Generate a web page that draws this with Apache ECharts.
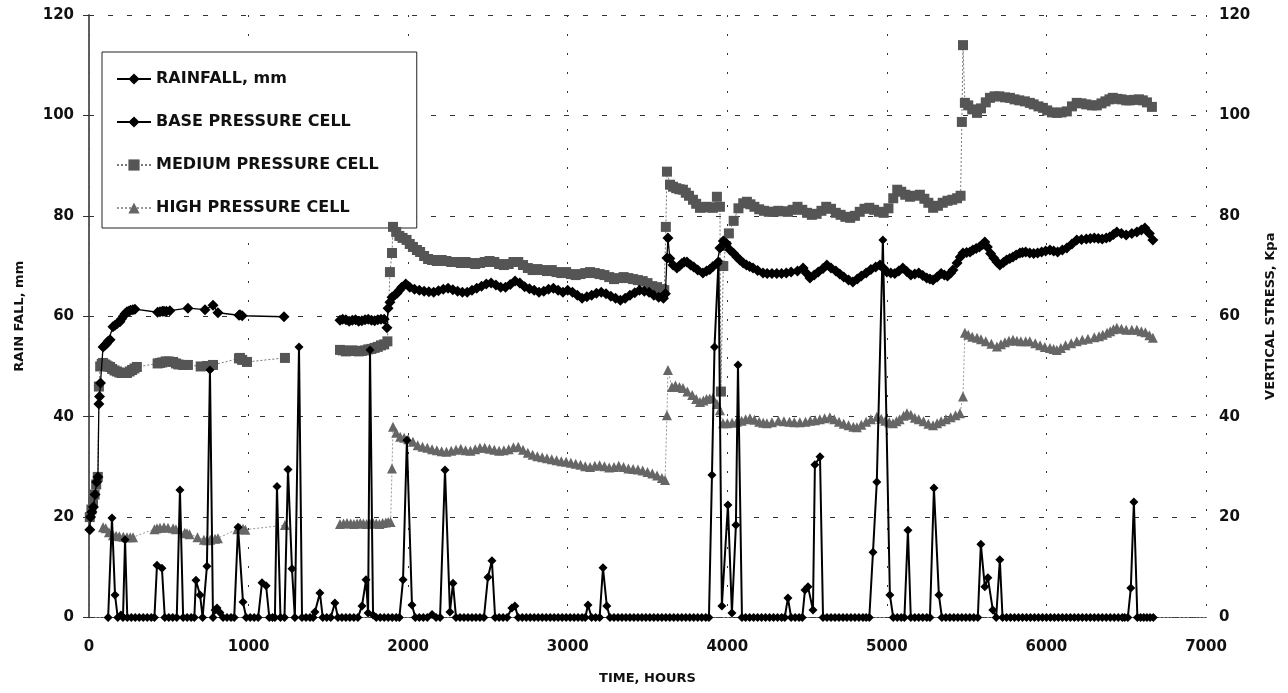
<!DOCTYPE html>
<html>
<head>
<meta charset="utf-8">
<script src="https://cdn.jsdelivr.net/npm/echarts@6/dist/echarts.min.js"></script>
<style>html,body{margin:0;padding:0;background:#fff}#c{width:1288px;height:693px}</style>
</head>
<body>
<div id="c"></div>
<script>
// ---------- DATA : [hours, value] ----------
const xTicks = [0, 1000, 2000, 3000, 4000, 5000, 6000, 7000];
const yTicks = [0, 20, 40, 60, 80, 100, 120];

// Rainfall, mm (left axis)
const rainfall = [[120,0],[144,19.8],[163,4.5],[180,0],[200,0.5],[213,0],[226,15.5],[240,0],[265,0],[290,0],[315,0],[340,0],[365,0],[390,0],[410,0],[426,10.4],[457,9.8],[475,0],[500,0],[525,0],[550,0],[570,25.4],[590,0],[615,0],[640,0],[660,0],[670,7.4],[696,4.5],[712,0],[739,10.2],[758,49.3],[777,0],[790,1.5],[802,1.9],[820,1],[840,0],[865,0],[890,0],[910,0],[934,18],[965,3.1],[985,0],[1010,0],[1035,0],[1060,0],[1084,6.9],[1110,6.3],[1130,0],[1150,0],[1165,0],[1178,26.1],[1200,0],[1225,0],[1247,29.5],[1272,9.7],[1290,0],[1316,53.9],[1335,0],[1360,0],[1385,0],[1405,0],[1416,1.1],[1447,4.9],[1465,0],[1490,0],[1515,0],[1541,2.9],[1560,0],[1585,0],[1610,0],[1635,0],[1660,0],[1685,0],[1711,2.3],[1736,7.5],[1749,0.9],[1761,53.3],[1780,0.5],[1800,0],[1825,0],[1850,0],[1875,0],[1900,0],[1925,0],[1945,0],[1968,7.5],[1992,35.3],[2024,2.5],[2045,0],[2070,0],[2095,0],[2120,0],[2150,0.6],[2175,0],[2200,0],[2231,29.4],[2262,1.1],[2281,6.8],[2300,0],[2325,0],[2350,0],[2375,0],[2400,0],[2425,0],[2450,0],[2475,0],[2500,8],[2525,11.3],[2545,0],[2570,0],[2595,0],[2620,0],[2650,1.9],[2669,2.3],[2690,0],[2715,0],[2740,0],[2765,0],[2790,0],[2815,0],[2840,0],[2865,0],[2890,0],[2915,0],[2940,0],[2965,0],[2990,0],[3015,0],[3040,0],[3065,0],[3090,0],[3110,0],[3127,2.5],[3150,0],[3175,0],[3200,0],[3221,9.9],[3245,2.3],[3265,0],[3290,0],[3315,0],[3340,0],[3365,0],[3390,0],[3415,0],[3440,0],[3465,0],[3490,0],[3515,0],[3540,0],[3565,0],[3590,0],[3615,0],[3640,0],[3665,0],[3690,0],[3715,0],[3740,0],[3765,0],[3790,0],[3815,0],[3840,0],[3865,0],[3885,0],[3904,28.4],[3920,53.9],[3945,71],[3966,2.3],[4004,22.4],[4029,0.9],[4054,18.4],[4067,50.3],[4092,0],[4115,0],[4140,0],[4165,0],[4190,0],[4215,0],[4240,0],[4265,0],[4290,0],[4315,0],[4340,0],[4360,0],[4380,3.9],[4400,0],[4425,0],[4450,0],[4470,0],[4487,5.5],[4506,6.1],[4537,1.5],[4549,30.4],[4581,32],[4600,0],[4625,0],[4650,0],[4675,0],[4700,0],[4725,0],[4750,0],[4775,0],[4800,0],[4825,0],[4850,0],[4870,0],[4890,0],[4913,13],[4937,27],[4975,75.2],[5019,4.5],[5040,0],[5065,0],[5090,0],[5110,0],[5132,17.4],[5150,0],[5175,0],[5200,0],[5225,0],[5250,0],[5270,0],[5295,25.8],[5326,4.5],[5345,0],[5370,0],[5395,0],[5420,0],[5445,0],[5470,0],[5495,0],[5520,0],[5545,0],[5570,0],[5589,14.6],[5614,6.1],[5633,7.9],[5664,1.5],[5685,0],[5708,11.5],[5725,0],[5750,0],[5775,0],[5800,0],[5825,0],[5850,0],[5875,0],[5900,0],[5925,0],[5950,0],[5975,0],[6000,0],[6025,0],[6050,0],[6075,0],[6100,0],[6125,0],[6150,0],[6175,0],[6200,0],[6225,0],[6250,0],[6275,0],[6300,0],[6325,0],[6350,0],[6375,0],[6400,0],[6425,0],[6450,0],[6475,0],[6490,0],[6510,0],[6529,5.9],[6548,23],[6570,0],[6590,0],[6610,0],[6630,0],[6650,0],[6670,0]];

// Base pressure cell, kPa (right axis); null = gap in record
const basePressure = [[5,17.5],[10,20],[18,21],[28,22],[38,24.5],[48,27],[56,28],[62,42.5],[66,44],[72,46.7],[88,53.9],[100,54.2],[110,54.5],[120,55],[132,55.3],[150,57.9],[163,58.2],[175,58.5],[194,58.9],[205,59.5],[215,60],[226,60.5],[238,60.9],[250,61],[260,61.2],[275,61.3],[288,61.4],[430,60.8],[445,60.9],[460,61],[470,61],[485,61],[507,61.1],[620,61.6],[727,61.3],[777,62.2],[808,60.7],[940,60.2],[946,60.3],[960,60.1],[1222,59.9],[1400,null],[1573,59.2],[1590,59.4],[1610,59.3],[1630,59],[1650,59.2],[1670,59.3],[1690,59],[1710,59.1],[1730,59.3],[1750,59.4],[1770,59.2],[1790,59.1],[1810,59.3],[1830,59.4],[1850,59.4],[1867,57.7],[1874,61.6],[1886,62.8],[1899,63.8],[1915,64.2],[1930,64.6],[1945,65.2],[1960,65.8],[1985,66.4],[2010,65.8],[2040,65.4],[2070,65.2],[2100,65],[2130,64.9],[2160,64.8],[2190,65.1],[2220,65.4],[2250,65.6],[2280,65.3],[2310,65],[2340,64.8],[2370,64.8],[2400,65.2],[2430,65.6],[2460,66],[2490,66.4],[2520,66.6],[2550,66.2],[2580,65.8],[2610,65.8],[2640,66.3],[2670,67],[2700,66.6],[2730,65.9],[2760,65.5],[2790,65.2],[2820,64.8],[2850,65],[2880,65.4],[2910,65.6],[2940,65.2],[2970,64.8],[3000,65.2],[3030,64.8],[3060,64.2],[3090,63.6],[3120,63.9],[3150,64.2],[3180,64.6],[3210,64.8],[3240,64.5],[3270,64],[3300,63.6],[3330,63.2],[3360,63.6],[3390,64.2],[3420,64.7],[3450,65.2],[3480,65],[3510,64.8],[3540,64.2],[3570,63.8],[3600,63.6],[3612,64.5],[3622,71.6],[3628,75.6],[3640,71.5],[3660,70.2],[3684,69.6],[3700,70],[3715,70.5],[3730,70.8],[3747,70.8],[3770,70.2],[3790,69.8],[3815,69.2],[3847,68.6],[3870,69],[3890,69.3],[3910,69.9],[3935,70.5],[3954,73.6],[3975,75],[3995,74.5],[4017,73.2],[4040,72.5],[4060,71.8],[4079,71.2],[4100,70.6],[4120,70.2],[4140,69.9],[4161,69.6],[4190,69.1],[4224,68.6],[4250,68.5],[4280,68.5],[4310,68.5],[4340,68.5],[4370,68.6],[4400,68.8],[4440,69],[4475,69.6],[4495,68.6],[4518,67.6],[4545,68.2],[4570,68.8],[4600,69.5],[4624,70.2],[4650,69.6],[4680,69],[4705,68.4],[4730,67.8],[4760,67.2],[4787,66.8],[4815,67.4],[4840,68],[4870,68.6],[4900,69.3],[4930,69.8],[4957,70.2],[4980,69.5],[5000,68.8],[5025,68.6],[5050,68.5],[5075,69],[5100,69.6],[5125,68.9],[5150,68.2],[5175,68.4],[5200,68.6],[5225,68.1],[5250,67.6],[5270,67.4],[5289,67.2],[5315,67.8],[5340,68.5],[5360,68.2],[5380,68],[5400,68.6],[5414,69.2],[5440,70.6],[5460,71.8],[5477,72.6],[5500,72.7],[5521,72.8],[5539,73.2],[5560,73.5],[5580,73.8],[5600,74.3],[5614,74.8],[5630,73.8],[5650,72.5],[5670,71.6],[5690,70.8],[5708,70.2],[5730,70.7],[5750,71.2],[5770,71.5],[5790,71.8],[5810,72.2],[5834,72.6],[5850,72.7],[5870,72.8],[5895,72.6],[5920,72.5],[5945,72.6],[5970,72.8],[5995,73],[6022,73.2],[6045,73],[6070,72.8],[6100,73.2],[6128,73.6],[6160,74.4],[6190,75.2],[6220,75.3],[6250,75.4],[6275,75.5],[6300,75.6],[6325,75.5],[6350,75.4],[6375,75.6],[6397,75.8],[6420,76.3],[6441,76.8],[6470,76.5],[6500,76.2],[6535,76.5],[6567,76.8],[6595,77.2],[6617,77.6],[6645,76.5],[6667,75.2]];

// Medium pressure cell, kPa (right axis)
const mediumPressure = [[5,20],[15,21.5],[25,23],[35,24.5],[45,26.5],[55,28],[62,46],[70,50],[80,50.5],[88,50.7],[100,50.4],[110,50.2],[120,50],[132,49.9],[145,49.5],[160,49.2],[175,49],[190,48.8],[205,48.7],[220,48.7],[238,48.7],[255,49],[270,49.3],[285,49.6],[300,49.9],[430,50.6],[445,50.7],[460,50.8],[480,51],[500,51],[527,50.9],[545,50.6],[560,50.4],[590,50.3],[620,50.3],[700,50],[740,50.1],[777,50.3],[940,51.6],[946,51.7],[960,51.3],[990,50.9],[1228,51.7],[1400,null],[1573,53.3],[1590,53.2],[1610,53],[1630,53.1],[1650,53.2],[1670,53.1],[1690,53],[1710,53.1],[1730,53.2],[1750,53.4],[1770,53.5],[1790,53.7],[1810,53.9],[1830,54.2],[1850,54.4],[1870,55],[1886,68.8],[1899,72.6],[1905,77.8],[1925,76.8],[1945,76],[1965,75.6],[1990,75.2],[2010,74.4],[2030,73.8],[2055,73.2],[2075,72.8],[2100,72],[2125,71.4],[2150,71.2],[2180,71],[2210,71.2],[2240,71],[2270,70.8],[2300,70.8],[2330,70.6],[2360,70.8],[2390,70.6],[2420,70.4],[2450,70.6],[2480,70.8],[2510,71],[2540,70.8],[2570,70.4],[2600,70.2],[2630,70.4],[2660,70.8],[2690,70.8],[2720,70.2],[2750,69.6],[2780,69.2],[2810,69.4],[2840,69.2],[2870,69],[2900,69.2],[2930,68.8],[2960,68.6],[2990,68.8],[3020,68.4],[3050,68.2],[3080,68.4],[3110,68.6],[3140,68.8],[3170,68.6],[3200,68.4],[3230,68.2],[3260,67.8],[3290,67.4],[3320,67.6],[3350,67.8],[3380,67.6],[3410,67.4],[3440,67.2],[3470,67],[3500,66.6],[3530,66],[3560,65.8],[3590,65.4],[3605,65.2],[3615,77.8],[3622,88.8],[3641,86.2],[3660,85.8],[3680,85.5],[3700,85.3],[3722,85.2],[3740,84.6],[3760,84],[3785,83.2],[3805,82.4],[3829,81.6],[3850,81.7],[3870,81.8],[3890,81.7],[3910,81.6],[3935,83.8],[3954,81.8],[3960,45],[3975,70],[3990,74],[4010,76.5],[4040,79],[4070,81.5],[4100,82.5],[4123,82.8],[4145,82.3],[4170,81.8],[4200,81.3],[4230,81],[4260,80.8],[4290,80.8],[4320,81],[4350,80.9],[4380,80.8],[4410,81.2],[4440,81.8],[4470,81.2],[4500,80.6],[4530,80.2],[4560,80.4],[4590,81],[4620,81.8],[4650,81.4],[4680,80.6],[4710,80.2],[4740,79.8],[4770,79.6],[4800,80],[4830,80.8],[4860,81.4],[4890,81.6],[4920,81.2],[4950,80.8],[4980,80.6],[5010,81.5],[5040,83.5],[5065,85.2],[5090,84.8],[5115,84.2],[5145,83.8],[5175,84],[5207,84.2],[5235,83.4],[5260,82.6],[5290,81.6],[5320,82],[5350,82.6],[5380,83],[5410,83.2],[5440,83.5],[5462,84],[5470,98.7],[5477,114],[5489,102.5],[5510,102],[5535,101.2],[5565,100.5],[5590,101.4],[5620,102.6],[5646,103.5],[5675,103.8],[5705,103.8],[5740,103.6],[5771,103.5],[5800,103.2],[5830,103],[5865,102.8],[5896,102.5],[5920,102.2],[5950,101.8],[5978,101.5],[6005,101],[6035,100.6],[6065,100.5],[6095,100.6],[6128,100.8],[6160,101.8],[6190,102.5],[6220,102.4],[6250,102.2],[6285,102],[6316,102],[6345,102.4],[6370,102.8],[6395,103.2],[6416,103.5],[6445,103.3],[6470,103.2],[6500,103],[6522,103],[6550,103.1],[6580,103.2],[6604,103],[6630,102.6],[6661,101.7]];

// High pressure cell, kPa (right axis)
const highPressure = [[88,18],[105,17.8],[125,17],[150,16.4],[170,16.3],[190,16.2],[215,16.1],[238,16],[258,16],[276,16],[410,17.6],[426,17.8],[445,17.9],[470,18],[495,17.9],[527,17.8],[545,17.6],[600,16.9],[614,16.8],[630,16.6],[680,16],[720,15.5],[739,15.4],[760,15.5],[790,15.7],[808,15.8],[930,17.6],[946,17.8],[965,17.7],[980,17.5],[1228,18.4],[1400,null],[1573,18.6],[1595,18.7],[1617,18.8],[1640,18.7],[1660,18.6],[1680,18.7],[1700,18.8],[1720,18.7],[1740,18.6],[1760,18.7],[1780,18.8],[1800,18.7],[1820,18.6],[1840,18.8],[1860,18.9],[1875,19],[1890,19],[1899,29.7],[1905,38],[1925,36.8],[1950,36],[1975,35.8],[2000,35.5],[2030,35],[2060,34.3],[2090,34],[2120,33.8],[2150,33.5],[2180,33.3],[2210,33.1],[2240,33],[2270,33.2],[2300,33.4],[2330,33.6],[2360,33.3],[2390,33.2],[2420,33.5],[2450,33.8],[2480,33.8],[2510,33.6],[2540,33.4],[2570,33.2],[2600,33.3],[2630,33.5],[2660,33.9],[2690,34],[2720,33.4],[2750,32.8],[2780,32.4],[2810,32.1],[2840,31.9],[2870,31.7],[2900,31.5],[2930,31.3],[2960,31.1],[2990,31],[3020,30.8],[3050,30.6],[3080,30.4],[3110,30.1],[3140,30],[3170,30.2],[3200,30.3],[3230,30.1],[3260,29.9],[3290,30],[3320,30.2],[3350,30],[3380,29.7],[3410,29.6],[3440,29.5],[3470,29.3],[3500,29],[3530,28.7],[3560,28.3],[3590,27.8],[3610,27.4],[3622,40.3],[3628,49.3],[3653,45.9],[3675,46.2],[3700,45.9],[3722,45.7],[3750,45],[3780,44.3],[3805,43.5],[3829,42.9],[3850,43.2],[3870,43.5],[3890,43.6],[3910,43.7],[3935,42.5],[3954,41.3],[3973,38.7],[4000,38.7],[4030,38.8],[4060,39],[4090,39.2],[4115,39.5],[4142,39.7],[4170,39.4],[4200,39],[4225,38.8],[4248,38.7],[4280,38.9],[4320,39.2],[4355,39.1],[4390,39],[4420,38.9],[4455,38.9],[4490,39],[4520,39.2],[4550,39.3],[4580,39.5],[4610,39.7],[4643,39.9],[4670,39.5],[4700,39],[4730,38.6],[4760,38.3],[4790,38],[4812,37.9],[4840,38.4],[4870,39],[4900,39.5],[4937,40],[4965,39.6],[4990,39.2],[5015,38.9],[5038,38.7],[5060,39.1],[5080,39.5],[5105,40.2],[5126,40.7],[5150,40.4],[5175,39.8],[5200,39.5],[5230,39.1],[5260,38.6],[5289,38.3],[5315,38.7],[5340,39.1],[5370,39.5],[5400,39.9],[5430,40.3],[5458,40.7],[5477,44],[5489,56.7],[5510,56.3],[5535,55.9],[5565,55.7],[5590,55.4],[5620,55],[5655,54.5],[5690,54],[5715,54.4],[5740,54.8],[5765,55.1],[5790,55.3],[5815,55.1],[5840,55],[5870,55],[5896,55],[5930,54.6],[5960,54.2],[5990,53.9],[6022,53.7],[6045,53.5],[6065,53.3],[6090,53.7],[6120,54.2],[6155,54.6],[6190,55],[6225,55.3],[6260,55.5],[6300,55.8],[6330,56],[6353,56.3],[6380,56.7],[6400,57],[6420,57.4],[6441,57.7],[6470,57.5],[6500,57.3],[6535,57.3],[6567,57.3],[6595,57],[6620,56.8],[6645,56.2],[6667,55.7]];

// ---------- CHART ----------
function clean(points) { return points.map(p => [p[0], p[1] === null ? '-' : p[1]]); }
const FONT = 'DejaVu Sans';
const chart = echarts.init(document.getElementById('c'), null, { renderer: 'canvas' });
const tickLabel = { fontFamily: FONT, fontWeight: 'bold', fontSize: 15, color: '#111', formatter: v => String(v) };

chart.setOption({
  animation: false,
  backgroundColor: '#fff',
  grid: { left: 89, right: 82, top: 15, bottom: 75.5, containLabel: false },
  legend: {
    orient: 'vertical', left: 102, top: 52,
    padding: [19, 38, 12, 14],
    itemGap: 27, itemWidth: 34, itemHeight: 14,
    backgroundColor: '#fff', borderColor: '#222', borderWidth: 1, borderRadius: 0,
    textStyle: { fontFamily: FONT, fontWeight: 'bold', fontSize: 16, color: '#111' },
    data: ['RAINFALL, mm', 'BASE PRESSURE CELL', 'MEDIUM PRESSURE CELL', 'HIGH PRESSURE CELL']
  },
  xAxis: [{
    type: 'value', min: 0, max: 7000, interval: 1000, position: 'bottom',
    name: 'TIME, HOURS', nameLocation: 'middle', nameGap: 55,
    nameTextStyle: { fontFamily: FONT, fontWeight: 'bold', fontSize: 13, color: '#111' },
    axisLine: { show: true, onZero: false, lineStyle: { color: '#333', width: 1.2, type: [2, 2] } },
    axisTick: { show: false },
    axisLabel: Object.assign({ margin: 22 }, tickLabel),
    splitLine: { show: true, lineStyle: { color: '#333', width: 1, type: [2, 17] } }
  }, {
    type: 'value', min: 0, max: 7000, interval: 1000, position: 'top',
    axisLine: { show: true, lineStyle: { color: '#444', width: 1, type: [2, 2] } },
    axisTick: { show: false }, axisLabel: { show: false }, splitLine: { show: false }
  }],
  yAxis: [{
    type: 'value', min: 0, max: 120, interval: 20, position: 'left',
    name: 'RAIN FALL, mm', nameLocation: 'middle', nameGap: 63, nameRotate: 90,
    nameTextStyle: { fontFamily: FONT, fontWeight: 'bold', fontSize: 13, color: '#111' },
    axisLine: { show: true, lineStyle: { color: '#555', width: 1.5 } },
    axisTick: { show: true, length: 6, lineStyle: { color: '#333' } },
    axisLabel: Object.assign({ margin: 15 }, tickLabel),
    splitLine: { show: true, lineStyle: { color: '#333', width: 1, type: [5, 14] } }
  }, {
    type: 'value', min: 0, max: 120, interval: 20, position: 'right',
    name: 'VERTICAL STRESS, Kpa', nameLocation: 'middle', nameGap: 58, nameRotate: 90,
    nameTextStyle: { fontFamily: FONT, fontWeight: 'bold', fontSize: 13, color: '#111' },
    axisLine: { show: true, lineStyle: { color: '#555', width: 1.5 } },
    axisTick: { show: true, length: 5, lineStyle: { color: '#333' } },
    axisLabel: Object.assign({ margin: 13 }, tickLabel),
    splitLine: { show: false }
  }],
  series: [{
    name: 'RAINFALL, mm', type: 'line', xAxisIndex: 0, yAxisIndex: 0, z: 6,
    data: clean(rainfall),
    symbol: 'diamond', symbolSize: 9, showAllSymbol: true,
    itemStyle: { color: '#000' }, lineStyle: { color: '#000', width: 2 }
  }, {
    name: 'BASE PRESSURE CELL', type: 'line', xAxisIndex: 0, yAxisIndex: 1, z: 5,
    data: clean(basePressure), connectNulls: false,
    symbol: 'diamond', symbolSize: 11, showAllSymbol: true,
    itemStyle: { color: '#000' }, lineStyle: { color: '#000', width: 1.3 }
  }, {
    name: 'MEDIUM PRESSURE CELL', type: 'line', xAxisIndex: 0, yAxisIndex: 1, z: 4,
    data: clean(mediumPressure), connectNulls: false,
    symbol: 'rect', symbolSize: 10, showAllSymbol: true,
    itemStyle: { color: '#555' }, lineStyle: { color: '#777', width: 1, type: [2, 2] }
  }, {
    name: 'HIGH PRESSURE CELL', type: 'line', xAxisIndex: 0, yAxisIndex: 1, z: 3,
    data: clean(highPressure), connectNulls: false,
    symbol: 'triangle', symbolSize: 10, showAllSymbol: true,
    itemStyle: { color: '#666' }, lineStyle: { color: '#999', width: 1, type: [2, 2] }
  }]
});
</script>
</body>
</html>
